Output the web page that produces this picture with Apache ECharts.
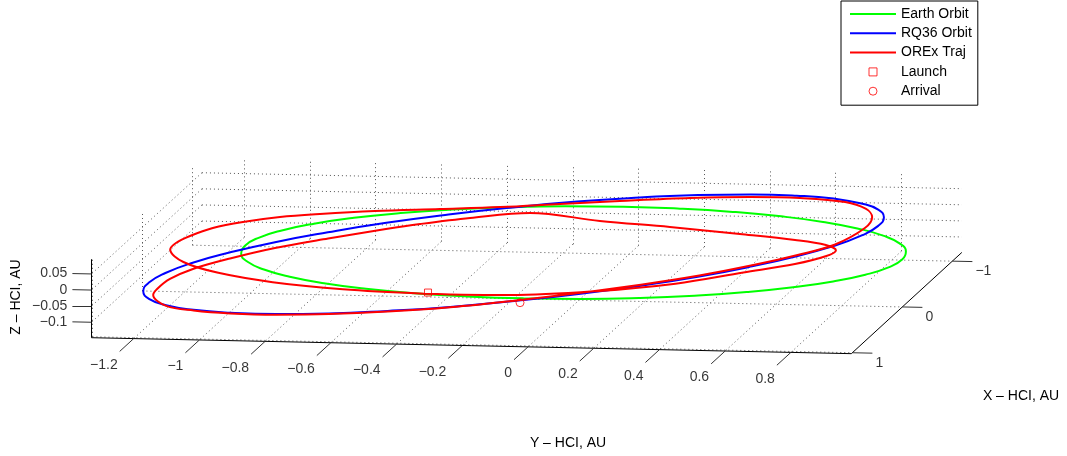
<!DOCTYPE html>
<html><head><meta charset="utf-8">
<script src="https://cdn.jsdelivr.net/npm/echarts@6/dist/echarts.min.js"></script>
<style>html,body{margin:0;padding:0;background:#fff}#c{width:1067px;height:456px}</style>
</head><body><div id="c"></div>
<script>
// ---- axis limits and ticks (AU) ----
const xLim = [-1.19, 1.02];
const yLim = [-1.3285, 0.984];
const zLim = [-0.148, 0.0957];
const xTicks = [-1, 0, 1];
const yTicks = [-1.2, -1, -0.8, -0.6, -0.4, -0.2, 0, 0.2, 0.4, 0.6, 0.8];
const zTicks = [-0.1, -0.05, 0, 0.05];

// ---- data: [X, Y, Z] in AU (HCI) ----
const earthOrbit = [
[1.004,-0.016,0],[0.989,0.158,0],[0.944,0.326,0],[0.870,0.484,0],[0.770,0.627,0],[0.647,0.750,0],
[0.504,0.850,0],[0.346,0.924,0],[0.178,0.969,0],[0.004,0.984,0],[-0.170,0.969,0],[-0.338,0.924,0],
[-0.496,0.850,0],[-0.639,0.750,0],[-0.762,0.627,0],[-0.862,0.484,0],[-0.936,0.326,0],[-0.981,0.158,0],
[-0.996,-0.016,0],[-0.981,-0.190,0],[-0.936,-0.358,0],[-0.862,-0.516,0],[-0.762,-0.659,0],[-0.639,-0.782,0],
[-0.496,-0.882,0],[-0.338,-0.956,0],[-0.170,-1.001,0],[0.004,-1.016,0],[0.178,-1.001,0],[0.346,-0.956,0],
[0.504,-0.882,0],[0.647,-0.782,0],[0.770,-0.659,0],[0.870,-0.516,0],[0.944,-0.358,0],[0.989,-0.190,0],
[1.004,-0.016,0]
];
const rq36Orbit = [
[0.332,0.828,0.086],[0.148,0.883,0.093],[-0.043,0.904,0.096],[-0.236,0.892,0.095],[-0.424,0.846,0.091],
[-0.601,0.768,0.083],[-0.763,0.659,0.073],[-0.905,0.525,0.059],[-1.021,0.368,0.043],[-1.109,0.194,0.025],
[-1.166,0.007,0.005],[-1.190,-0.187,-0.015],[-1.180,-0.381,-0.036],[-1.137,-0.570,-0.056],[-1.063,-0.748,-0.075],
[-0.958,-0.910,-0.093],[-0.827,-1.051,-0.108],[-0.673,-1.166,-0.121],[-0.502,-1.252,-0.130],[-0.318,-1.307,-0.137],
[-0.127,-1.328,-0.140],[0.066,-1.316,-0.139],[0.254,-1.270,-0.135],[0.431,-1.191,-0.128],[0.593,-1.083,-0.117],
[0.735,-0.949,-0.103],[0.851,-0.792,-0.087],[0.939,-0.618,-0.069],[0.996,-0.431,-0.049],[1.020,-0.237,-0.029],
[1.010,-0.043,-0.008],[0.968,0.146,0.012],[0.893,0.324,0.031],[0.788,0.486,0.048],[0.657,0.627,0.064],
[0.504,0.742,0.077],[0.332,0.828,0.086]
];
const orexTraj = [
[0.948,-0.328,0],[0.940,-0.066,0],[0.866,0.184,0.007],[0.732,0.405,0.016],[0.546,0.583,0.028],
[0.321,0.706,0.025],[0.074,0.764,0.016],[-0.164,0.757,0],
[-0.271,0.710,0],[-0.398,0.597,-0.005],[-0.536,0.408,-0.010],[-0.688,0.172,-0.015],[-0.806,-0.059,-0.018],
[-0.959,-0.295,-0.020],[-0.963,-0.478,-0.040],[-0.915,-0.623,-0.055],[-0.896,-0.724,-0.070],[-0.805,-0.886,-0.090],
[-0.682,-1.029,-0.105],[-0.527,-1.142,-0.118],[-0.355,-1.229,-0.128],[-0.179,-1.272,-0.135],[0.013,-1.282,-0.139],
[0.150,-1.273,-0.138],
[0.431,-1.191,-0.130],[0.593,-1.083,-0.119],[0.735,-0.949,-0.105],[0.851,-0.792,-0.089],[0.939,-0.618,-0.071],
[0.996,-0.431,-0.051],[1.020,-0.237,-0.030],[1.010,-0.043,-0.007],[0.968,0.146,0.015],[0.893,0.324,0.034],
[0.788,0.486,0.051],[0.657,0.627,0.067],[0.504,0.742,0.080],[0.332,0.828,0.089],[-0.066,0.860,0.085],
[-0.270,0.851,0.090],[-0.425,0.809,0.092],[-0.578,0.722,0.090],[-0.712,0.564,0.080],[-0.815,0.396,0.065],
[-0.869,0.206,0.050],[-0.877,-0.009,0.035],[-0.890,-0.193,0.020],[-0.880,-0.374,0.008],[-0.866,-0.555,0],
[-0.794,-0.742,0],[-0.706,-0.896,0],[-0.624,-1.005,0],[-0.501,-1.099,0],[-0.359,-1.169,0],[-0.178,-1.211,0],
[-0.022,-1.230,0],
[0.119,-1.226,0],[0.380,-1.146,0],[0.596,-1.007,0],[0.770,-0.815,0],[0.890,-0.583,0],[0.948,-0.328,0]
];
const launchPoint = [[0.95,-0.315,0.004]];
const arrivalPoint = [[1.015,-0.025,-0.012]];

// ---- orthographic view (screen-plane unit vectors of the data axes) ----
const VIEW = {ux:-0.15042, uy:0.98857, uz:0, vx:-0.13779, vy:-0.020758, vz:0.968712};
const PLANE = {uMin:-1.741877, uMax:1.468111, vMin:-0.612214, vMax:0.759627};
function proj(p){
  return [VIEW.ux*p[0]+VIEW.uy*p[1]+VIEW.uz*p[2], VIEW.vx*p[0]+VIEW.vy*p[1]+VIEW.vz*p[2]];
}
const P = arr => arr.map(proj);

// ---- box grid (back walls and floor) ----
const gridSegs = [];
function seg(a,b){ gridSegs.push({coords:[proj(a),proj(b)]}); }
yTicks.forEach(y=>{ seg([xLim[0],y,zLim[0]],[xLim[1],y,zLim[0]]); seg([xLim[0],y,zLim[0]],[xLim[0],y,zLim[1]]); });
xTicks.forEach(x=>{ seg([x,yLim[0],zLim[0]],[x,yLim[1],zLim[0]]); seg([x,yLim[0],zLim[0]],[x,yLim[0],zLim[1]]); });
zTicks.forEach(z=>{ seg([xLim[0],yLim[0],z],[xLim[0],yLim[1],z]); seg([xLim[0],yLim[0],z],[xLim[1],yLim[0],z]); });

const axisSegs = [
  {coords:[proj([xLim[1],yLim[0],zLim[0]]),proj([xLim[1],yLim[1],zLim[0]])]},
  {coords:[proj([xLim[0],yLim[1],zLim[0]]),proj([xLim[1],yLim[1],zLim[0]])]},
  {coords:[proj([xLim[1],yLim[0],zLim[0]]),proj([xLim[1],yLim[0],zLim[1]])]}
];
const Y_TICK_LEN = 0.28, X_TICK_LEN = 0.061, Z_TICK_LEN = 0.058;
const tickSegs = [];
const yLabelPts = [], xLabelPts = [], zLabelPts = [];
const fmt = v => String(v).replace('-', '\u2212');
yTicks.forEach(y=>{
  const a=[xLim[1],y,zLim[0]], b=[xLim[1]+Y_TICK_LEN,y,zLim[0]];
  tickSegs.push({coords:[proj(a),proj(b)]});
  yLabelPts.push([...proj(b), fmt(y)]);
});
xTicks.forEach(x=>{
  const a=[x,yLim[1],zLim[0]], b=[x,yLim[1]+X_TICK_LEN,zLim[0]];
  tickSegs.push({coords:[proj(a),proj(b)]});
  xLabelPts.push([...proj(b), fmt(x)]);
});
zTicks.forEach(z=>{
  const a=[xLim[1],yLim[0],z], b=[xLim[1],yLim[0]-Z_TICK_LEN,z];
  tickSegs.push({coords:[proj(a),proj(b)]});
  zLabelPts.push([...proj(b), fmt(z)]);
});

const FONT = "'Liberation Sans', Arial, Helvetica, sans-serif";
function labelSeries(data, align, offset){
  return {type:'scatter', data, symbolSize:0, silent:true, z:5,
    label:{show:true, position:'inside', formatter:p=>p.value[2], align, verticalAlign:'middle',
      offset, color:'#000', fontSize:14, fontFamily:FONT}};
}
const noSym = {opacity:0};
const markerIconStyle = {color:'rgba(0,0,0,0)', borderColor:'#ff0000', borderWidth:1};
const SQUARE_ICON = 'path://M0,0H10V10H0Z';

const chart = echarts.init(document.getElementById('c'), null, {renderer:'canvas'});
chart.setOption({
  animation:false,
  backgroundColor:'#fff',
  grid:{left:0,right:0,top:0,bottom:0},
  xAxis:{type:'value', min:PLANE.uMin, max:PLANE.uMax, show:false},
  yAxis:{type:'value', min:PLANE.vMin, max:PLANE.vMax, show:false},
  legend:{
    orient:'vertical', left:841, top:1, itemWidth:46, itemHeight:8, itemGap:5.3,
    padding:[6,6,7,8], borderColor:'#000', borderWidth:1, backgroundColor:'#fff', borderRadius:0,
    symbolKeepAspect:true,
    textStyle:{fontSize:14, fontFamily:FONT, color:'#000', lineHeight:14},
    data:[
      {name:'Earth Orbit', itemStyle:noSym},
      {name:'RQ36 Orbit', itemStyle:noSym},
      {name:'OREx Traj', itemStyle:noSym},
      {name:'Launch', icon:SQUARE_ICON, itemStyle:markerIconStyle},
      {name:'Arrival', icon:'circle', itemStyle:markerIconStyle}
    ]
  },
  graphic:[
    {type:'text', x:568, y:443, style:{text:'Y \u2013 HCI, AU', font:'14px '+FONT, fill:'#000', align:'center', verticalAlign:'middle'}},
    {type:'text', x:1021, y:396, style:{text:'X \u2013 HCI, AU', font:'14px '+FONT, fill:'#000', align:'center', verticalAlign:'middle'}},
    {type:'text', x:16, y:297, rotation:Math.PI/2, style:{text:'Z \u2013 HCI, AU', font:'14px '+FONT, fill:'#000', align:'center', verticalAlign:'middle'}}
  ],
  series:[
    {type:'lines', coordinateSystem:'cartesian2d', silent:true, z:1, data:gridSegs,
      lineStyle:{color:'#555', width:1, type:[1,3], opacity:1}},
    {type:'lines', coordinateSystem:'cartesian2d', silent:true, z:2, data:axisSegs,
      lineStyle:{color:'#000', width:1, opacity:1}},
    {type:'lines', coordinateSystem:'cartesian2d', silent:true, z:2, data:tickSegs,
      lineStyle:{color:'#333', width:1, opacity:1}},
    labelSeries(yLabelPts,'right',[-2,13.5]),
    labelSeries(xLabelPts,'left',[3,10]),
    labelSeries(zLabelPts,'right',[-5,0]),
    {name:'Earth Orbit', type:'line', data:P(earthOrbit), symbol:'none', smooth:true, z:3,
      lineStyle:{color:'#00ff00', width:2}, itemStyle:{color:'#00ff00'}},
    {name:'RQ36 Orbit', type:'line', data:P(rq36Orbit), symbol:'none', smooth:true, z:3,
      lineStyle:{color:'#0000ff', width:2}, itemStyle:{color:'#0000ff'}},
    {name:'OREx Traj', type:'line', data:P(orexTraj), symbol:'none', smooth:0.35, z:3,
      lineStyle:{color:'#ff0000', width:2}, itemStyle:{color:'#ff0000'}},
    {name:'Launch', type:'scatter', data:P(launchPoint), symbol:'rect', symbolSize:7, z:4,
      itemStyle:{color:'rgba(0,0,0,0)', borderColor:'#ff0000', borderWidth:1}},
    {name:'Arrival', type:'scatter', data:P(arrivalPoint), symbol:'circle', symbolSize:8, z:4,
      itemStyle:{color:'rgba(0,0,0,0)', borderColor:'#ff0000', borderWidth:1}}
  ]
});
</script></body></html>
